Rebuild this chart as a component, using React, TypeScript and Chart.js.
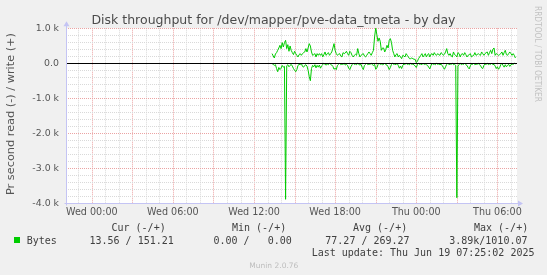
import { useEffect, useRef } from 'react';
import { Chart, registerables } from 'chart.js';

Chart.register(...registerables);

// time axis: hours relative to Wed 00:00, samples every 5 minutes from Wed 13:20
const START_HOUR = 13 + 20 / 60;
const STEP_HOURS = 5 / 60;

// write bytes per second (+)
const WRITE_BYTES = [
  276, 210, 152, 267, 305, 371, 438, 514, 419, 590,
  466, 590, 657, 419, 533, 343, 495, 371, 305, 248,
  343, 276, 228, 181, 248, 276, 228, 276, 305, 324,
  419, 324, 438, 562, 495, 324, 228, 248, 276, 181,
  276, 228, 276, 228, 276, 181, 248, 324, 228, 276,
  305, 228, 276, 324, 438, 562, 371, 276, 228, 257,
  276, 210, 181, 305, 276, 295, 343, 276, 228, 343,
  305, 228, 181, 228, 257, 228, 420, 276, 181, 228,
  257, 276, 210, 181, 228, 276, 324, 276, 228, 305,
  371, 752, 1010, 819, 628, 724, 628, 371, 438, 438,
  324, 400, 514, 438, 657, 705, 590, 371, 276, 181,
  248, 276, 181, 228, 181, 133, 228, 210, 181, 276,
  228, 181, 133, 133, 152, 133, 114, 114, 19, 57,
  133, 181, 228, 276, 181, 228, 276, 181, 248, 276,
  181, 257, 276, 228, 305, 248, 228, 276, 248, 228,
  305, 276, 228, 257, 324, 419, 276, 228, 276, 210,
  181, 324, 248, 228, 181, 305, 276, 181, 257, 276,
  228, 305, 248, 181, 228, 248, 276, 181, 210, 228,
  305, 228, 248, 276, 248, 228, 324, 276, 228, 276,
  305, 324, 228, 305, 371, 276, 400, 438, 228, 276,
  257, 228, 248, 276, 324, 228, 305, 371, 248, 228,
  276, 324, 276, 228, 276, 228, 151,
];

// read bytes per second (-), drawn below zero
const READ_BYTES = [
  10, 30, 60, 40, 150, 240, 120, 180, 140, 60,
  110, 90, 3886, 70, 40, 100, 60, 30, 80, 150,
  200, 240, 180, 60, 30, 40, 0, 90, 110, 60,
  40, 80, 200, 380, 497, 150, 60, 100, 40, 130,
  60, 110, 50, 140, 70, 40, 0, 30, 50, 20,
  40, 0, 30, 50, 90, 170, 140, 180, 60, 30,
  0, 40, 20, 30, 0, 50, 30, 60, 140, 180,
  100, 40, 0, 30, 20, 40, 0, 30, 50, 30,
  120, 180, 60, 30, 0, 40, 20, 30, 0, 40,
  60, 30, 170, 130, 40, 0, 30, 20, 40, 30,
  0, 40, 50, 100, 180, 120, 30, 0, 30, 20,
  40, 0, 60, 140, 80, 150, 60, 20, 30, 0,
  30, 20, 40, 0, 30, 20, 40, 80, 120, 40,
  0, 30, 20, 40, 0, 30, 20, 40, 60, 110,
  160, 70, 0, 30, 20, 40, 0, 30, 20, 40,
  30, 60, 120, 170, 100, 30, 0, 40, 20, 30,
  0, 40, 30, 60, 3840, 80, 30, 0, 40, 20,
  30, 0, 40, 60, 120, 160, 70, 20, 30, 0,
  40, 20, 30, 0, 40, 60, 130, 150, 60, 20,
  30, 0, 40, 20, 30, 0, 40, 30, 80, 150,
  100, 170, 120, 40, 0, 60, 110, 40, 100, 60,
  30, 90, 40, 20, 30, 0, 14,
];

const X_TICK_HOURS = [0, 6, 12, 18, 24, 30];
const X_TICK_LABELS = ['Wed 00:00', 'Wed 06:00', 'Wed 12:00', 'Wed 18:00', 'Thu 00:00', 'Thu 06:00'];
const Y_TICK_VALUES = [1000, 0, -1000, -2000, -3000, -4000];
const Y_TICK_LABELS = ['1.0 k', '0.0', '-1.0 k', '-2.0 k', '-3.0 k', '-4.0 k'];

const X_MIN = -1.908;
const X_MAX = 31.45;
const Y_MIN = -4000;
const Y_MAX = 1000;
const X_GRID_STEP = 1;
const X_MAJOR_EVERY = 3;
const Y_GRID_STEP = 200;
const Y_MAJOR_EVERY = 1000;

const TITLE = 'Disk throughput for /dev/mapper/pve-data_tmeta - by day';
const Y_TITLE = 'Pr second read (-) / write (+)';
const WATERMARK = 'RRDTOOL / TOBI OETIKER';
const SERIES_NAME = 'Bytes';
const LEGEND_HEADS = ['Cur (-/+)', 'Min (-/+)', 'Avg (-/+)', 'Max (-/+)'];
const LEGEND_VALUES = ['13.56 / 151.21', '0.00 /   0.00', '77.27 / 269.27', '3.89k/1010.07'];
const LAST_UPDATE = 'Last update: Thu Jun 19 07:25:02 2025';
const VERSION = 'Munin 2.0.76';

const GREEN = '#00cc00';
const MINOR = '#d9d9d9';
const MAJOR = '#eba3a3';
const AXIS = '#c4c4f4';

const decor = {
  id: 'muninDecor',
  beforeDraw(chart: any) {
    const { ctx, chartArea: a } = chart;
    ctx.save();
    ctx.fillStyle = '#f0f0f0';
    ctx.fillRect(0, 0, chart.width, chart.height);
    ctx.fillStyle = '#ffffff';
    ctx.fillRect(a.left, a.top, a.right - a.left, a.bottom - a.top);
    const xs = chart.scales.x;
    const ys = chart.scales.y;
    ctx.lineWidth = 1;
    ctx.setLineDash([1, 1]);
    xs.ticks.forEach((t: any) => {
      const px = Math.round(xs.getPixelForValue(t.value)) + 0.5;
      ctx.strokeStyle = t.value % X_MAJOR_EVERY === 0 ? MAJOR : MINOR;
      ctx.beginPath();
      ctx.moveTo(px, a.top);
      ctx.lineTo(px, a.bottom);
      ctx.stroke();
    });
    ys.ticks.forEach((t: any) => {
      const py = Math.floor(ys.getPixelForValue(t.value)) + 0.5;
      ctx.strokeStyle = t.value % Y_MAJOR_EVERY === 0 ? MAJOR : MINOR;
      ctx.beginPath();
      ctx.moveTo(a.left, py);
      ctx.lineTo(a.right, py);
      ctx.stroke();
    });
    ctx.restore();
  },
  afterDatasetsDraw(chart: any) {
    const { ctx, chartArea: a } = chart;
    const ys = chart.scales.y;
    ctx.save();
    ctx.lineWidth = 1;
    ctx.setLineDash([]);
    // zero line
    const y0 = Math.floor(ys.getPixelForValue(0)) + 0.5;
    ctx.strokeStyle = '#000000';
    ctx.beginPath();
    ctx.moveTo(a.left, y0);
    ctx.lineTo(a.right, y0);
    ctx.stroke();
    // axes
    const xl = Math.floor(a.left) + 0.5;
    const yb = Math.floor(a.bottom) + 0.5;
    ctx.strokeStyle = AXIS;
    ctx.beginPath();
    ctx.moveTo(xl, yb + 2);
    ctx.lineTo(xl, a.top - 4);
    ctx.moveTo(xl - 2, yb);
    ctx.lineTo(a.right + 2, yb);
    ctx.stroke();
    ctx.fillStyle = AXIS;
    ctx.beginPath();
    ctx.moveTo(xl - 3, a.top - 2);
    ctx.lineTo(xl + 3, a.top - 2);
    ctx.lineTo(xl, a.top - 7);
    ctx.closePath();
    ctx.fill();
    ctx.beginPath();
    ctx.moveTo(a.right + 1, yb - 3);
    ctx.lineTo(a.right + 1, yb + 3);
    ctx.lineTo(a.right + 6, yb);
    ctx.closePath();
    ctx.fill();
    ctx.restore();
  },
  afterDraw(chart: any) {
    const { ctx } = chart;
    ctx.save();
    ctx.textBaseline = 'alphabetic';
    // title
    ctx.fillStyle = '#4a4a4a';
    ctx.font = '12.5px "DejaVu Sans"';
    ctx.textAlign = 'center';
    ctx.fillText(TITLE, 273.5, 24);
    // y title, stretched to the original length
    ctx.save();
    ctx.translate(13.5, 114);
    ctx.rotate(-Math.PI / 2);
    ctx.font = '10px "DejaVu Sans"';
    ctx.fillStyle = '#555555';
    const w1 = ctx.measureText(Y_TITLE).width;
    ctx.scale(162 / w1, 1);
    ctx.textAlign = 'center';
    ctx.fillText(Y_TITLE, 0, 0);
    ctx.restore();
    // watermark
    ctx.save();
    ctx.translate(534.5, 6);
    ctx.rotate(Math.PI / 2);
    ctx.font = '9px "DejaVu Sans"';
    ctx.fillStyle = '#c2c2c2';
    const w2 = ctx.measureText(WATERMARK).width;
    ctx.scale(96 / w2, 1);
    ctx.textAlign = 'left';
    ctx.fillText(WATERMARK, 0, 0);
    ctx.restore();
    // legend
    ctx.textAlign = 'left';
    ctx.font = '10px "DejaVu Sans Mono"';
    ctx.fillStyle = '#404040';
    const headX = [111.5, 232, 353, 474];
    LEGEND_HEADS.forEach((s, i) => ctx.fillText(s, headX[i], 231));
    ctx.fillStyle = GREEN;
    ctx.fillRect(14, 237, 6, 6);
    ctx.fillStyle = '#404040';
    ctx.fillText(SERIES_NAME, 26.7, 243.5);
    const valX = [89.5, 213.5, 325.3, 449.2];
    LEGEND_VALUES.forEach((s, i) => ctx.fillText(s, valX[i], 243.5));
    ctx.fillText(LAST_UPDATE, 311.7, 256);
    ctx.font = '7.5px "DejaVu Sans"';
    ctx.fillStyle = '#bdbdbd';
    ctx.textAlign = 'center';
    ctx.fillText(VERSION, 273.8, 267.5);
    ctx.restore();
  },
};

export default function App() {
  const ref = useRef<HTMLCanvasElement | null>(null);
  useEffect(() => {
    document.body.style.margin = '0';
    const canvas = ref.current;
    if (!canvas) return;
    const writePts = WRITE_BYTES.map((v, i) => ({ x: START_HOUR + i * STEP_HOURS, y: v }));
    const readPts = READ_BYTES.map((v, i) => ({ x: START_HOUR + i * STEP_HOURS, y: -v }));
    const chart = new Chart(canvas, {
      type: 'line',
      data: {
        datasets: [
          { data: readPts, borderColor: GREEN, borderWidth: 1, pointRadius: 0, tension: 0, fill: false },
          { data: writePts, borderColor: GREEN, borderWidth: 1, pointRadius: 0, tension: 0, fill: false },
        ],
      },
      options: {
        animation: false,
        responsive: false,
        devicePixelRatio: 1,
        layout: { padding: { left: 0, right: 30, top: 28.3, bottom: 51.7 } },
        plugins: { legend: { display: false }, tooltip: { enabled: false }, title: { display: false } },
        scales: {
          x: {
            type: 'linear',
            min: X_MIN,
            max: X_MAX,
            grid: { display: false, drawTicks: false },
            border: { display: false },
            afterBuildTicks: (scale: any) => {
              const t = [];
              for (let h = Math.ceil(X_MIN); h <= Math.floor(X_MAX); h += X_GRID_STEP) t.push({ value: h });
              scale.ticks = t;
            },
            afterFit: (scale: any) => { scale.height = 20; },
            ticks: {
              autoSkip: false,
              maxRotation: 0,
              padding: 3,
              color: '#555555',
              font: { family: 'DejaVu Sans', size: 9.6 },
              callback: (v: any) => {
                const k = X_TICK_HOURS.indexOf(Number(v));
                return k >= 0 ? X_TICK_LABELS[k] : '';
              },
            },
          },
          y: {
            min: Y_MIN,
            max: Y_MAX,
            grid: { display: false, drawTicks: false },
            border: { display: false },
            afterBuildTicks: (scale: any) => {
              const t = [];
              for (let v = Y_MIN; v <= Y_MAX; v += Y_GRID_STEP) t.push({ value: v });
              scale.ticks = t;
            },
            afterFit: (scale: any) => { scale.width = 66; },
            ticks: {
              autoSkip: false,
              padding: 7,
              color: '#555555',
              font: { family: 'DejaVu Sans', size: 9.4 },
              callback: (v: any) => {
                const k = Y_TICK_VALUES.indexOf(Number(v));
                return k >= 0 ? Y_TICK_LABELS[k] : '';
              },
            },
          },
        },
      },
      plugins: [decor],
    });
    return () => chart.destroy();
  }, []);
  return <canvas ref={ref} width={547} height={275} style={{ display: 'block' }} />;
}
